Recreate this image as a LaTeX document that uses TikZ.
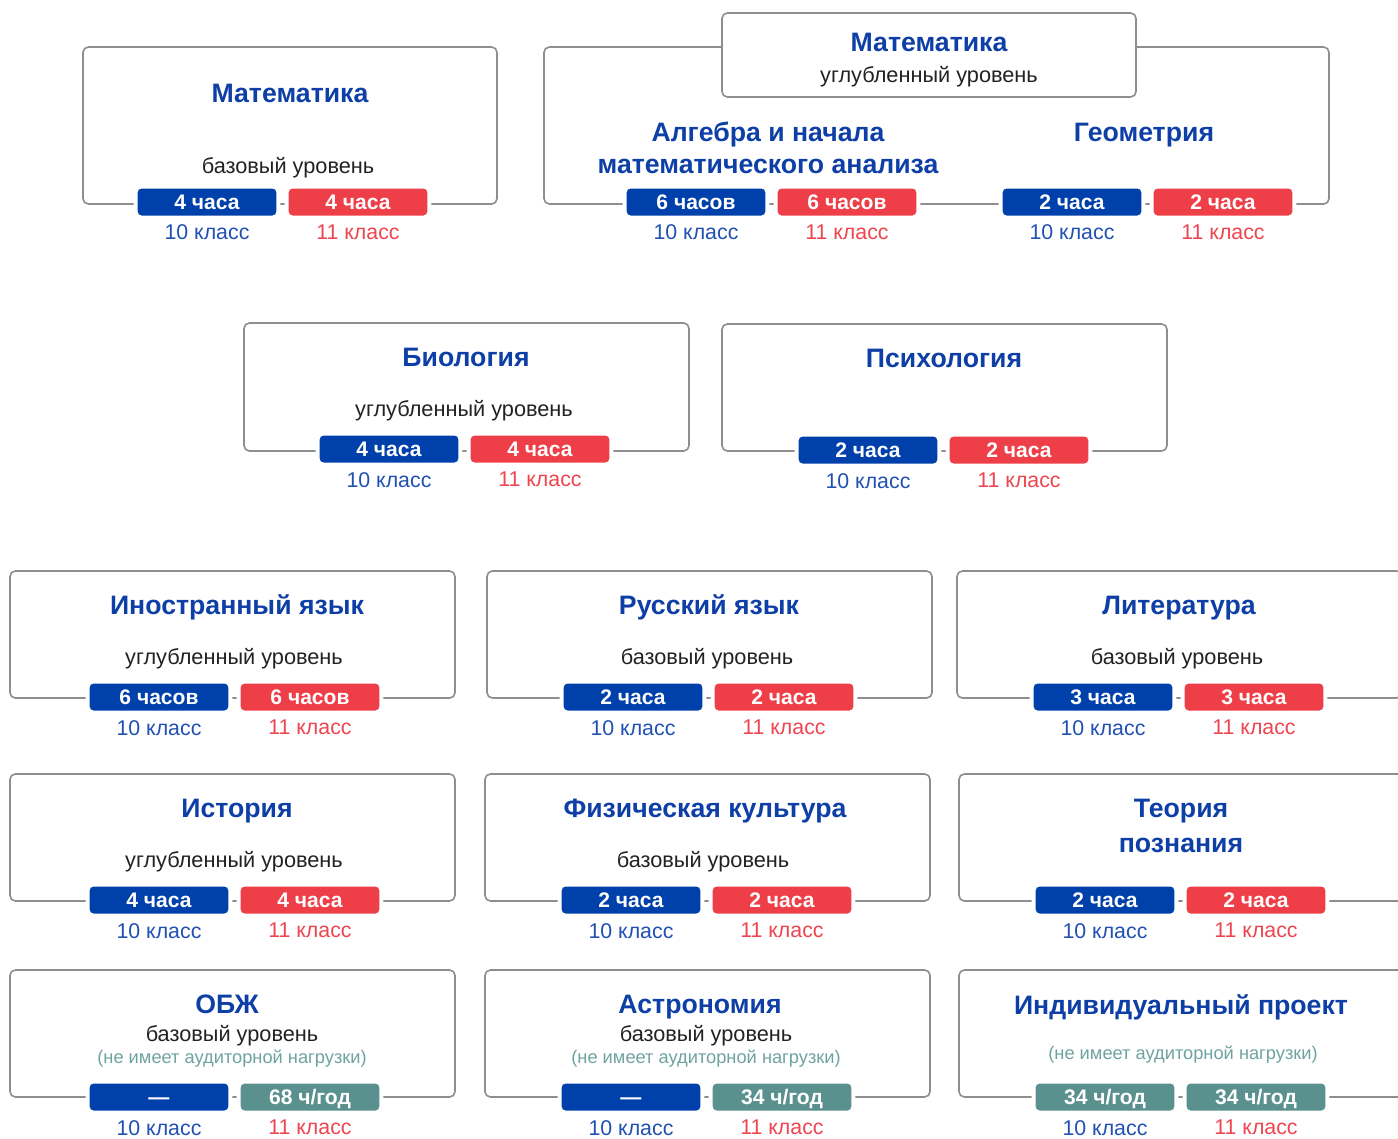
\documentclass[tikz,border=0pt]{standalone}
\usepackage{fontspec}
\setmainfont{Liberation Sans}
\usepackage{xcolor}
\usetikzlibrary{positioning}
\definecolor{framegray}{HTML}{8E8E8E}
\definecolor{titleblue}{HTML}{0D3FA6}
\definecolor{badgeblue}{HTML}{0040AA}
\definecolor{badgered}{HTML}{EE3F48}
\definecolor{badgeteal}{HTML}{5A918F}
\definecolor{gradeblue}{HTML}{2050B2}
\definecolor{gradered}{HTML}{EE4450}
\definecolor{notegray}{HTML}{6FA3A0}
\definecolor{levelgray}{HTML}{222222}
\tikzset {
    panel/.style 2 args = {
        draw = framegray,
        line width = 1.2pt,
        rounded corners = 4pt,
        fill = white,
        minimum width = #1,
        minimum height = #2,
        inner sep = 0pt,
        outer sep = 0pt,
        anchor = north west
    },
    title/.style = {
        anchor = base,
        align = center,
        text = titleblue,
        font = \fontsize{20}{24}\selectfont\bfseries
    },
    level/.style = {
        anchor = base,
        text = levelgray,
        font = \fontsize{16.3}{19}\selectfont
    },
    note/.style = {
        anchor = base,
        text = notegray,
        font = \fontsize{13.7}{16}\selectfont
    },
    hours/.style = {
        draw = white,
        line width = 3pt,
        rounded corners = 4pt,
        minimum width = 107pt,
        minimum height = 23.25pt,
        inner sep = 0pt,
        outer sep = 0pt,
        text height = 11pt,
        text depth = 0pt,
        text = white,
        font = \fontsize{15.8}{18}\selectfont\bfseries
    },
    hoursblue/.style = {hours, fill = badgeblue},
    hoursred/.style  = {hours, fill = badgered},
    hoursteal/.style = {hours, fill = badgeteal},
    grade/.style = {
        inner sep = 0pt,
        font = \fontsize{16}{19}\selectfont
    },
    gradeten/.style    = {grade, text = gradeblue,  below = 5.5pt of #1},
    gradeeleven/.style = {grade, text = gradered,   below = 5.5pt of #1}
}
\begin{document}
\begin{tikzpicture}[x=0.75pt, y=-0.75pt]
        \useasboundingbox (0, 0) rectangle (1398, 1138);
        \clip (0, 0) rectangle (1398, 1138);

        % First row : Mathematics basic, Mathematics advanced (algebra + geometry)
        \node [panel={310.5pt}{117.75pt}] at (83, 47)       (box1)      {};
        \node [title] at (290, 103)                         (title1)    {Математика};
        \node [level] at (288, 173)                         (level1)    {базовый уровень};
        \node [hoursblue] at (207, 202)                     (hours1a)   {4 часа};
        \node [hoursred]  at (358, 202)                     (hours1b)   {4 часа};

        \node [panel={588.75pt}{117.75pt}] at (544, 47)     (box2)      {};
        \node [panel={310.5pt}{63pt}] at (722, 13)          (box2top)   {};
        \node [title] at (929, 52)                          (title2)    {Математика};
        \node [level] at (929, 83)                          (level2)    {углубленный уровень};
        % multi-line node: base is the last line
        \node [title] at (768, 173)                         (title2a)   {Алгебра и начала\\математического анализа};
        \node [title] at (1144, 141)                        (title2b)   {Геометрия};
        \node [hoursblue] at (696, 202)                     (hours2a)   {6 часов};
        \node [hoursred]  at (847, 202)                     (hours2b)   {6 часов};
        \node [hoursblue] at (1072, 202)                    (hours2c)   {2 часа};
        \node [hoursred]  at (1223, 202)                    (hours2d)   {2 часа};

        % Second row : Biology, Psychology
        \node [panel={333.75pt}{96pt}] at (244, 323)        (box3)      {};
        \node [title] at (466, 366)                         (title3)    {Биология};
        \node [level] at (464, 416)                         (level3)    {углубленный уровень};
        \node [hoursblue] at (389, 449)                     (hours3a)   {4 часа};
        \node [hoursred]  at (540, 449)                     (hours3b)   {4 часа};

        \node [panel={333.75pt}{95.25pt}] at (722, 324)     (box4)      {};
        \node [title] at (944, 367)                         (title4)    {Психология};
        \node [hoursblue] at (868, 450)                     (hours4a)   {2 часа};
        \node [hoursred]  at (1019, 450)                    (hours4b)   {2 часа};

        % Third row : Foreign language, Russian, Literature
        \node [panel={333.75pt}{95.25pt}] at (10, 571)      (box5)      {};
        \node [title] at (237, 614)                         (title5)    {Иностранный язык};
        \node [level] at (234, 664)                         (level5)    {углубленный уровень};
        \node [hoursblue] at (159, 697)                     (hours5a)   {6 часов};
        \node [hoursred]  at (310, 697)                     (hours5b)   {6 часов};

        \node [panel={333.75pt}{95.25pt}] at (487, 571)     (box6)      {};
        \node [title] at (709, 614)                         (title6)    {Русский язык};
        \node [level] at (707, 664)                         (level6)    {базовый уровень};
        \node [hoursblue] at (633, 697)                     (hours6a)   {2 часа};
        \node [hoursred]  at (784, 697)                     (hours6b)   {2 часа};

        \node [panel={333.75pt}{95.25pt}] at (957, 571)     (box7)      {};
        \node [title] at (1179, 614)                        (title7)    {Литература};
        \node [level] at (1177, 664)                        (level7)    {базовый уровень};
        \node [hoursblue] at (1103, 697)                    (hours7a)   {3 часа};
        \node [hoursred]  at (1254, 697)                    (hours7b)   {3 часа};

        % Fourth row : History, Physical education, Theory of knowledge
        \node [panel={333.75pt}{95.25pt}] at (10, 774)      (box8)      {};
        \node [title] at (237, 817)                         (title8)    {История};
        \node [level] at (234, 867)                         (level8)    {углубленный уровень};
        \node [hoursblue] at (159, 900)                     (hours8a)   {4 часа};
        \node [hoursred]  at (310, 900)                     (hours8b)   {4 часа};

        \node [panel={333.75pt}{95.25pt}] at (485, 774)     (box9)      {};
        \node [title] at (705, 817)                         (title9)    {Физическая культура};
        \node [level] at (703, 867)                         (level9)    {базовый уровень};
        \node [hoursblue] at (631, 900)                     (hours9a)   {2 часа};
        \node [hoursred]  at (782, 900)                     (hours9b)   {2 часа};

        \node [panel={333.75pt}{95.25pt}] at (959, 774)     (box10)     {};
        \node [title, font=\fontsize{20}{26.25}\selectfont\bfseries]
              at (1181, 852)                                (title10)   {Теория\\познания};
        \node [hoursblue] at (1105, 900)                    (hours10a)  {2 часа};
        \node [hoursred]  at (1256, 900)                    (hours10b)  {2 часа};

        % Fifth row : no classroom load
        \node [panel={333.75pt}{95.25pt}] at (10, 970)      (box11)     {};
        \node [title] at (227, 1013)                        (title11)   {ОБЖ};
        \node [level] at (232, 1041)                        (level11)   {базовый уровень};
        \node [note]  at (232, 1063)                        (note11)    {(не имеет аудиторной нагрузки)};
        \node [hoursblue] at (159, 1097)                    (hours11a)  {—};
        \node [hoursteal] at (310, 1097)                    (hours11b)  {68 ч/год};

        \node [panel={333.75pt}{95.25pt}] at (485, 970)     (box12)     {};
        \node [title] at (700, 1013)                        (title12)   {Астрономия};
        \node [level] at (706, 1041)                        (level12)   {базовый уровень};
        \node [note]  at (706, 1063)                        (note12)    {(не имеет аудиторной нагрузки)};
        \node [hoursblue] at (631, 1097)                    (hours12a)  {—};
        \node [hoursteal] at (782, 1097)                    (hours12b)  {34 ч/год};

        \node [panel={333.75pt}{95.25pt}] at (959, 970)     (box13)     {};
        \node [title] at (1181, 1014)                       (title13)   {Индивидуальный проект};
        \node [note]  at (1183, 1059)                       (note13)    {(не имеет аудиторной нагрузки)};
        \node [hoursteal] at (1105, 1097)                   (hours13a)  {34 ч/год};
        \node [hoursteal] at (1256, 1097)                   (hours13b)  {34 ч/год};

        % Grade labels under every pair of badges
        \node [gradeten=hours1a]     (grade1a)  {10 класс};
        \node [gradeeleven=hours1b]  (grade1b)  {11 класс};
        \node [gradeten=hours2a]     (grade2a)  {10 класс};
        \node [gradeeleven=hours2b]  (grade2b)  {11 класс};
        \node [gradeten=hours2c]     (grade2c)  {10 класс};
        \node [gradeeleven=hours2d]  (grade2d)  {11 класс};
        \node [gradeten=hours3a]     (grade3a)  {10 класс};
        \node [gradeeleven=hours3b]  (grade3b)  {11 класс};
        \node [gradeten=hours4a]     (grade4a)  {10 класс};
        \node [gradeeleven=hours4b]  (grade4b)  {11 класс};
        \node [gradeten=hours5a]     (grade5a)  {10 класс};
        \node [gradeeleven=hours5b]  (grade5b)  {11 класс};
        \node [gradeten=hours6a]     (grade6a)  {10 класс};
        \node [gradeeleven=hours6b]  (grade6b)  {11 класс};
        \node [gradeten=hours7a]     (grade7a)  {10 класс};
        \node [gradeeleven=hours7b]  (grade7b)  {11 класс};
        \node [gradeten=hours8a]     (grade8a)  {10 класс};
        \node [gradeeleven=hours8b]  (grade8b)  {11 класс};
        \node [gradeten=hours9a]     (grade9a)  {10 класс};
        \node [gradeeleven=hours9b]  (grade9b)  {11 класс};
        \node [gradeten=hours10a]    (grade10a) {10 класс};
        \node [gradeeleven=hours10b] (grade10b) {11 класс};
        \node [gradeten=hours11a]    (grade11a) {10 класс};
        \node [gradeeleven=hours11b] (grade11b) {11 класс};
        \node [gradeten=hours12a]    (grade12a) {10 класс};
        \node [gradeeleven=hours12b] (grade12b) {11 класс};
        \node [gradeten=hours13a]    (grade13a) {10 класс};
        \node [gradeeleven=hours13b] (grade13b) {11 класс};
    \end{tikzpicture}
\end{document}
